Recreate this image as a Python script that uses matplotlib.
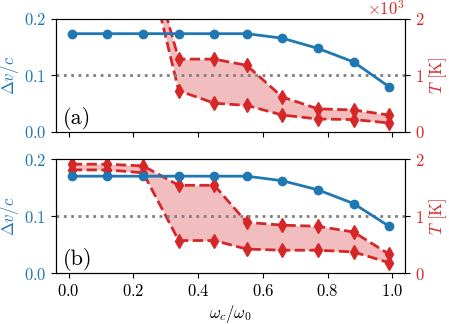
import matplotlib
matplotlib.use("Agg")
import matplotlib.pyplot as plt
from matplotlib.ticker import ScalarFormatter

plt.rcParams['font.family'] = 'serif'
plt.rcParams['font.serif'] = ['cmr10']
plt.rcParams['mathtext.fontset'] = 'cm'
plt.rcParams['axes.formatter.use_mathtext'] = True
plt.rcParams['font.size'] = 12

# omega_c / omega_0
x = [0.01, 0.12, 0.23, 0.34, 0.45, 0.55, 0.66, 0.77, 0.88, 0.99]

# panel (a)
dv_a = [0.174, 0.174, 0.174, 0.174, 0.174, 0.174, 0.166, 0.148, 0.124, 0.080]
T_hi_a = [3500, 3500, 3500, 1290, 1290, 1180, 620, 410, 390, 300]
T_lo_a = [3350, 3350, 3350, 730, 510, 470, 300, 230, 220, 160]

# panel (b)
dv_b = [0.170, 0.170, 0.170, 0.170, 0.170, 0.170, 0.162, 0.146, 0.122, 0.082]
T_hi_b = [1910, 1910, 1880, 1540, 1540, 890, 840, 820, 720, 330]
T_lo_b = [1810, 1810, 1760, 570, 570, 420, 400, 400, 370, 180]

blue = '#1f77b4'
red = '#d62728'

fig = plt.figure(figsize=(4.49, 3.24), dpi=100)
ax_a = fig.add_axes([0.1247, 0.5926, 0.7773, 0.3488])
ax_b = fig.add_axes([0.1247, 0.1574, 0.7773, 0.3516])

panels = [(ax_a, dv_a, T_hi_a, T_lo_a, '(a)'), (ax_b, dv_b, T_hi_b, T_lo_b, '(b)')]

for ax, dv, hi, lo, tag in panels:
    ax2 = ax.twinx()
    ax.axhline(0.1, color='gray', ls=':', lw=2, zorder=1)
    ax2.fill_between(x, lo, hi, color=red, alpha=0.3, lw=0)
    ax2.plot(x, hi, color=red, ls='--', lw=2, marker='d', ms=7)
    ax2.plot(x, lo, color=red, ls='--', lw=2, marker='d', ms=7)
    ax.plot(x, dv, color=blue, lw=2, marker='o', ms=6, zorder=3)
    ax.set_zorder(ax2.get_zorder() + 1)
    ax.patch.set_visible(False)

    ax.set_ylim(0, 0.2)
    ax.set_yticks([0, 0.1, 0.2])
    ax.set_xticks([0, 0.2, 0.4, 0.6, 0.8, 1.0])
    ax.set_ylabel(r'$\Delta v/c$', color=blue, labelpad=2)
    ax.tick_params(axis='y', labelcolor=blue)
    ax.text(0.02, 0.07, tag, transform=ax.transAxes, fontsize=16)

    ax2.set_ylim(0, 2000)
    ax2.set_yticks([0, 1000, 2000])
    fmt = ScalarFormatter(useMathText=True)
    fmt.set_powerlimits((3, 3))
    ax2.yaxis.set_major_formatter(fmt)
    ax2.yaxis.get_offset_text().set_color(red)
    if tag == '(b)':
        ax2.yaxis.get_offset_text().set_visible(False)
    ax2.set_ylabel(r'$T$ [K]', color=red, labelpad=2)
    ax2.tick_params(axis='y', labelcolor=red)

ax_a.tick_params(axis='x', labelbottom=False)
ax_b.set_xlabel(r'$\omega_c/\omega_0$', labelpad=3)

fig.savefig('out.png', dpi=100)
